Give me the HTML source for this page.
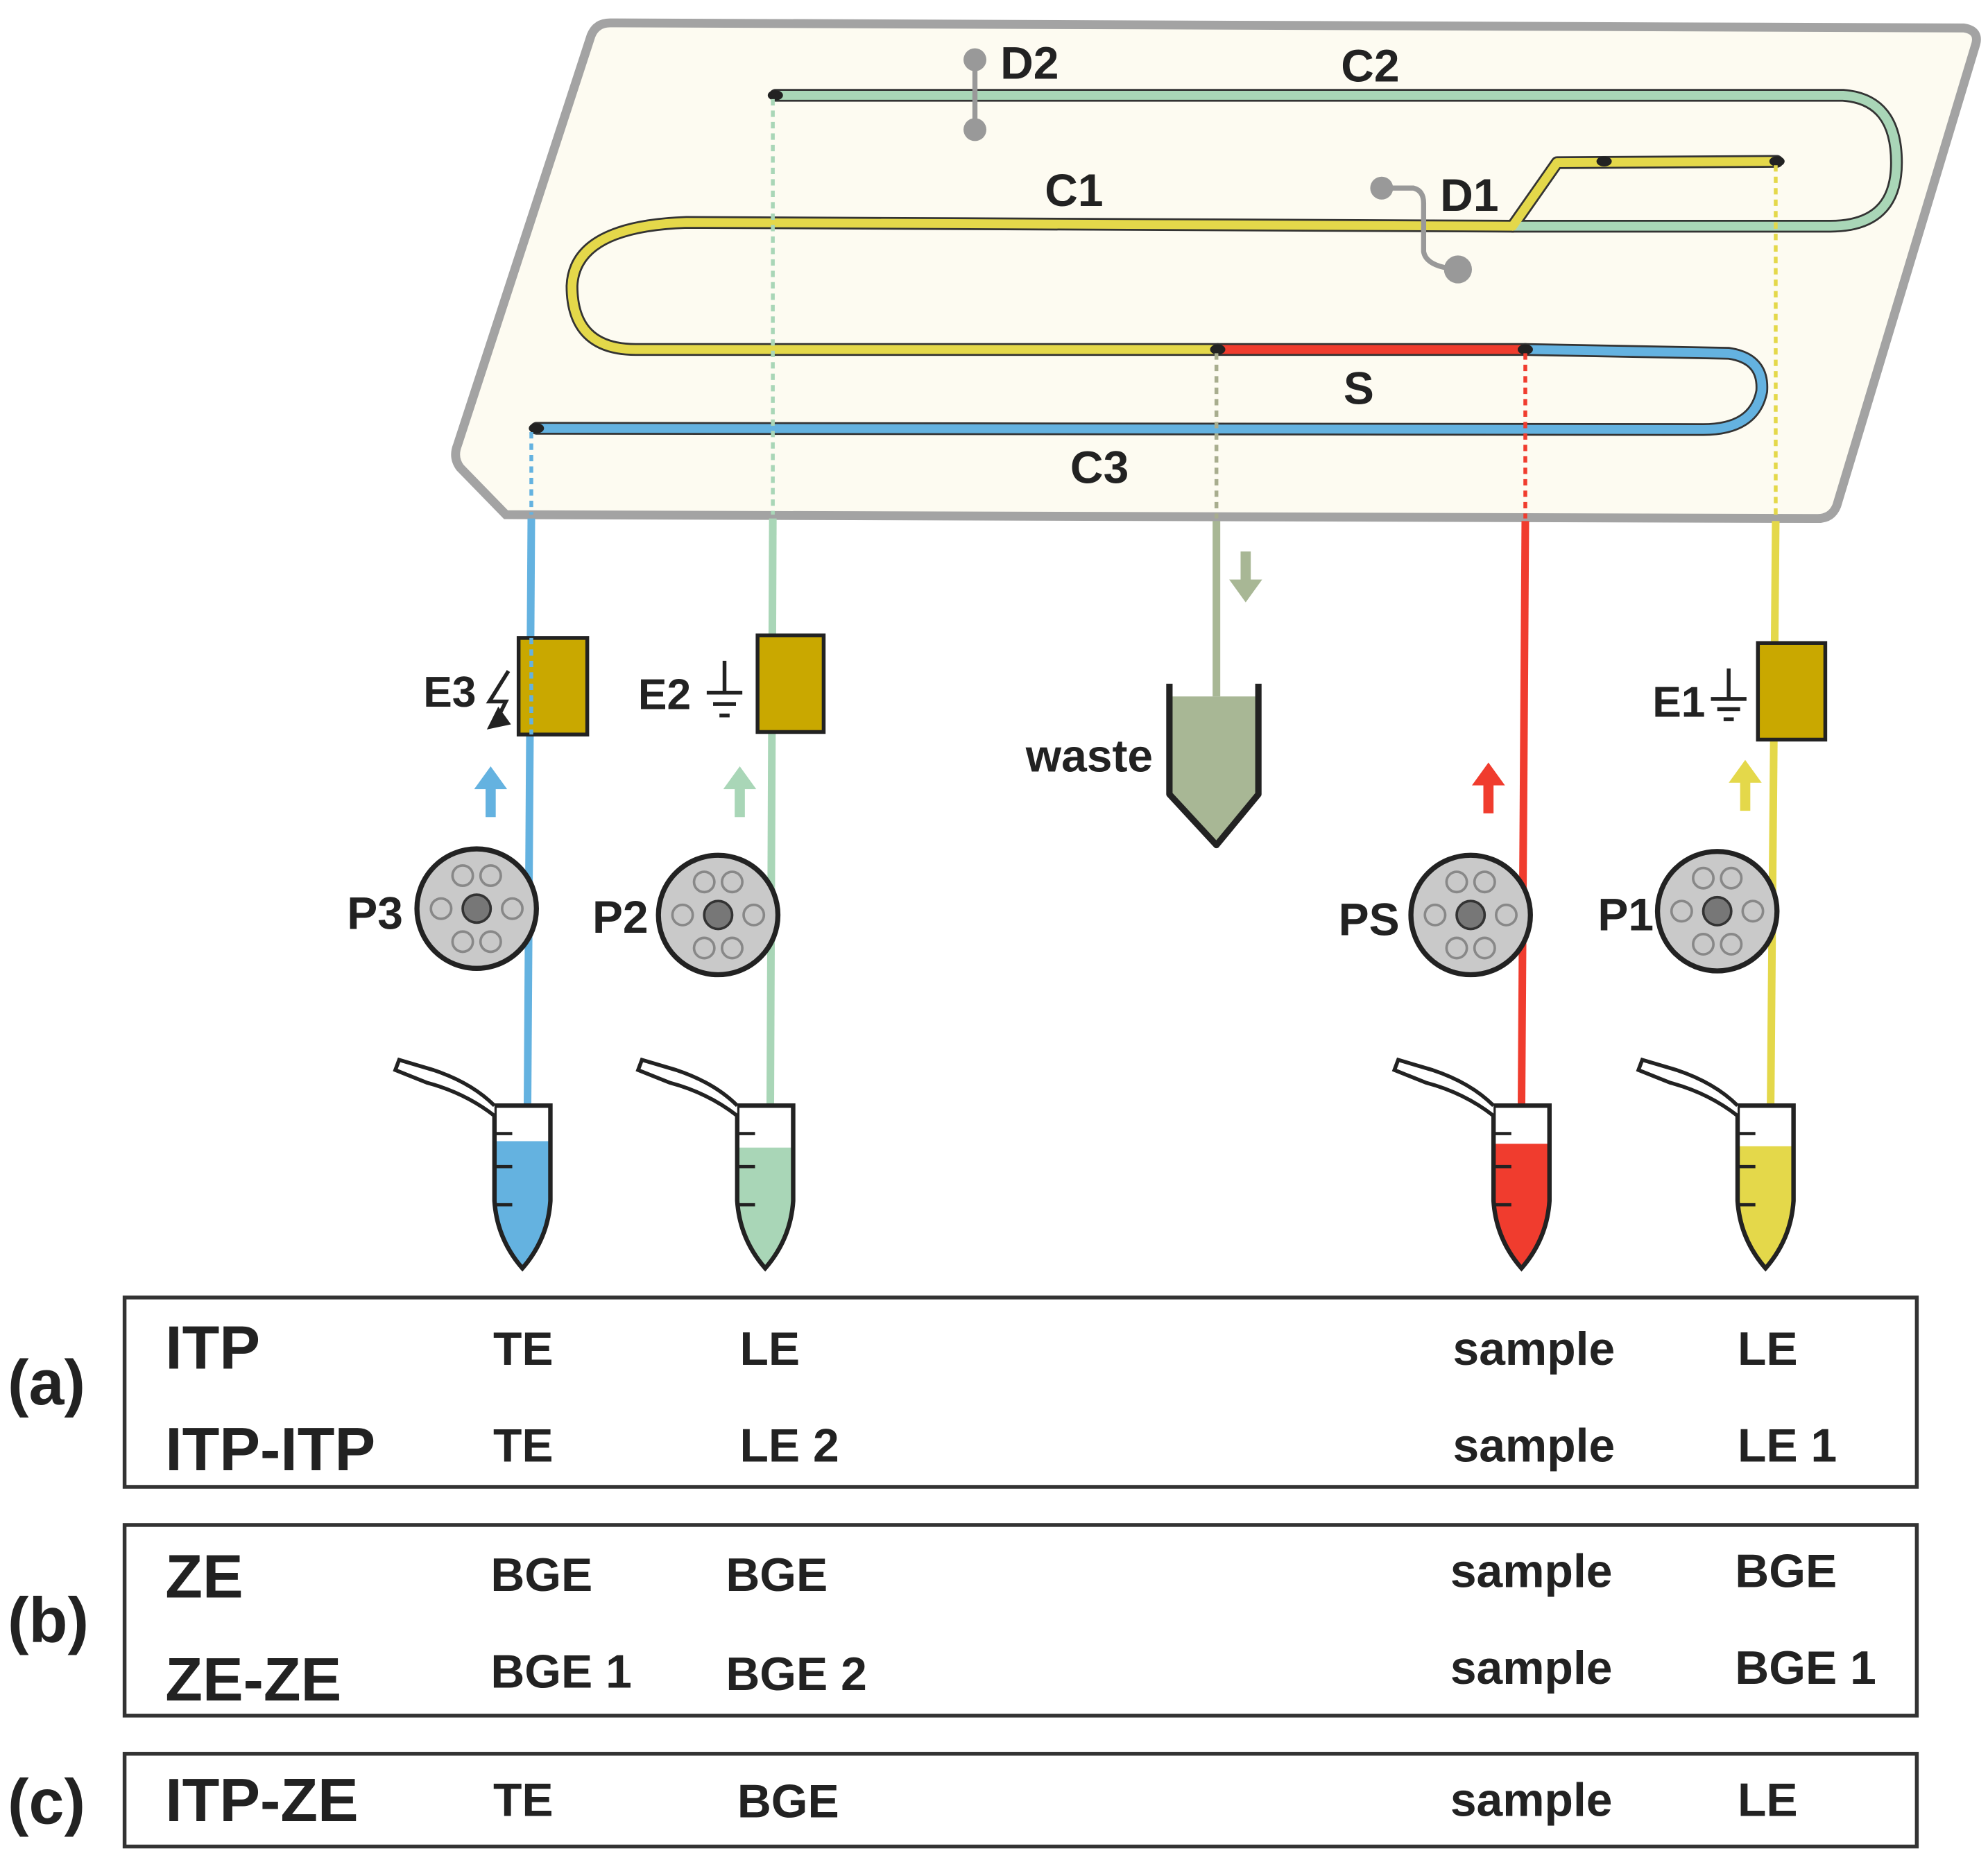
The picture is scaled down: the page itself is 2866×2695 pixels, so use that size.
<!DOCTYPE html>
<html><head><meta charset="utf-8"><style>
html,body{margin:0;padding:0;background:#fff}
svg{display:block}
text{font-family:"Liberation Sans",sans-serif;font-weight:bold;fill:#222}
</style></head><body>
<svg width="2866" height="2695" viewBox="0 0 1564 1470.7" xmlns="http://www.w3.org/2000/svg">
<defs>
<g id="pump">
<circle r="47" fill="#c9c9c9" stroke="#222" stroke-width="4"/>
<g fill="#c9c9c9" stroke="#888" stroke-width="2">
<circle cx="28" cy="0" r="8"/><circle cx="-28" cy="0" r="8"/>
<circle cx="11" cy="26" r="8"/><circle cx="-11" cy="26" r="8"/>
<circle cx="11" cy="-26" r="8"/><circle cx="-11" cy="-26" r="8"/>
</g>
<circle r="11" fill="#777" stroke="#333" stroke-width="2"/>
</g>
<g id="tubeShell">
<path d="M-22 870 L22 870 L22 945 Q20 975 0 998 Q-20 975 -22 945 Z" fill="none" stroke="#222" stroke-width="3.5"/>
<path d="M-22 878 Q-45 860 -75 852 L-100 842 L-97 834 L-70 842 Q-40 852 -22 870" fill="#fff" stroke="#222" stroke-width="3"/>
<g stroke="#222" stroke-width="2.5"><line x1="-22" y1="892" x2="-8" y2="892"/><line x1="-22" y1="918" x2="-8" y2="918"/><line x1="-22" y1="948" x2="-8" y2="948"/></g>
</g>
<g id="up"><path d="M0 -22 L-13 -4 L-4 -4 L-4 18 L4 18 L4 -4 L13 -4 Z"/></g>
</defs>

<path d="M480 18 L1545 22 Q1558 24 1554 36 L1445 398 Q1441 408 1430 408 L398 405 L362 368 Q356 360 360 350 L465 28 Q469 18 480 18 Z" fill="#fdfbf1" stroke="#a3a3a3" stroke-width="7"/>

<g fill="none" stroke-linecap="round" stroke-linejoin="round">
<g stroke="#333" stroke-width="10">
<path d="M610 75 L1450 75 Q1492 78 1492 128 Q1492 178 1440 178 L1190 178"/>
<path d="M1190 178 L540 175 Q452 178 450 225 Q450 275 500 275 L958 275"/>
<path d="M1190 178 L1225 128 L1398 127"/>
<path d="M958 275 L1200 275"/>
<path d="M1200 275 L1360 278 Q1388 282 1386 308 Q1380 338 1340 338 L422 337"/>
</g>
<g stroke-width="7">
<path stroke="#a9d6b7" d="M610 75 L1450 75 Q1492 78 1492 128 Q1492 178 1440 178 L1190 178"/>
<path stroke="#e4d84a" d="M1190 178 L540 175 Q452 178 450 225 Q450 275 500 275 L958 275"/>
<path stroke="#e4d84a" d="M1190 178 L1225 128 L1398 127"/>
<path stroke="#f03c2e" d="M958 275 L1200 275"/>
<path stroke="#64b2e0" d="M1200 275 L1360 278 Q1388 282 1386 308 Q1380 338 1340 338 L422 337"/>
</g>
</g>
<g fill="#222"><ellipse cx="610" cy="75" rx="6" ry="4"/><ellipse cx="958" cy="275" rx="6" ry="4"/><ellipse cx="1200" cy="275" rx="6" ry="4"/><ellipse cx="422" cy="337" rx="6" ry="4"/><ellipse cx="1262" cy="127" rx="6" ry="4"/><ellipse cx="1398" cy="127" rx="6" ry="4"/></g>

<g stroke="#999" stroke-width="4" fill="#999">
<line x1="767" y1="47" x2="767" y2="102"/><circle cx="767" cy="47" r="9" stroke="none"/><circle cx="767" cy="102" r="9" stroke="none"/>
<path d="M1087 148 L1112 148 Q1120 150 1120 160 L1120 198 Q1122 210 1147 212" fill="none"/>
<circle cx="1087" cy="148" r="9" stroke="none"/><circle cx="1147" cy="212" r="11" stroke="none"/>
</g>

<g font-size="36">
<text x="787" y="62">D2</text><text x="1055" y="64">C2</text>
<text x="822" y="162">C1</text><text x="1133" y="166">D1</text>
<text x="1057" y="318">S</text><text x="842" y="380">C3</text>
</g>

<g stroke-width="3" stroke-dasharray="5 4" fill="none">
<line x1="418" y1="340" x2="418" y2="405" stroke="#64b2e0"/>
<line x1="608" y1="78" x2="608" y2="405" stroke="#a9d6b7"/>
<line x1="957" y1="278" x2="957" y2="408" stroke="#a8ad8e"/>
<line x1="1200" y1="278" x2="1200" y2="408" stroke="#f03c2e"/>
<line x1="1397" y1="130" x2="1397" y2="408" stroke="#e4d84a"/>
</g>
<g stroke-width="6" fill="none">
<line x1="418" y1="408" x2="415" y2="870" stroke="#64b2e0"/>
<line x1="608" y1="408" x2="606" y2="870" stroke="#a9d6b7"/>
<line x1="957" y1="410" x2="957" y2="548" stroke="#a8b795"/>
<line x1="1200" y1="410" x2="1197" y2="870" stroke="#f03c2e"/>
<line x1="1397" y1="410" x2="1393" y2="870" stroke="#e4d84a"/>
</g>

<g fill="#c9a800" stroke="#222" stroke-width="3">
<rect x="408" y="502" width="54" height="76"/>
<rect x="596" y="500" width="52" height="76"/>
<rect x="1383" y="506" width="53" height="76"/>
</g>
<line x1="418" y1="502" x2="418" y2="578" stroke="#64b2e0" stroke-width="3" stroke-dasharray="5 4"/>
<g stroke="#222" stroke-width="3" fill="none">
<line x1="570" y1="520" x2="570" y2="545"/><line x1="556" y1="545" x2="584" y2="545"/><line x1="561" y1="554" x2="579" y2="554"/><line x1="566" y1="563" x2="574" y2="563"/>
<line x1="1360" y1="526" x2="1360" y2="550"/><line x1="1346" y1="550" x2="1374" y2="550"/><line x1="1351" y1="558" x2="1369" y2="558"/><line x1="1356" y1="566" x2="1364" y2="566"/>
<path d="M400 528 L385 552 L398 552 L390 568"/>
</g>
<path d="M383 574 L402 570 L392 556 Z" fill="#222"/>
<g font-size="34">
<text x="333" y="556">E3</text><text x="502" y="558">E2</text><text x="1300" y="564">E1</text>
</g>

<use href="#up" x="386" y="625" fill="#64b2e0"/>
<use href="#up" x="582" y="625" fill="#a9d6b7"/>
<use href="#up" x="1171" y="622" fill="#f03c2e"/>
<use href="#up" x="1373" y="620" fill="#e4d84a"/>
<use href="#up" x="980" y="452" fill="#a8b795" transform="rotate(180 980 452)"/>

<path d="M920 548 L990 548 L990 622 L957 662 L920 622 Z" fill="#a8b795"/>
<path d="M920 538 L920 625 L957 665 L990 625 L990 538" fill="none" stroke="#222" stroke-width="5" stroke-linejoin="round"/>
<text x="807" y="607" font-size="36">waste</text>

<use href="#pump" x="375" y="715"/><use href="#pump" x="565" y="720"/>
<use href="#pump" x="1157" y="720"/><use href="#pump" x="1351" y="717"/>
<g font-size="36"><text x="273" y="731">P3</text><text x="466" y="734">P2</text><text x="1053" y="736">PS</text><text x="1257" y="732">P1</text></g>

<path transform="translate(411 0)" d="M-22 898 L22 898 L22 945 Q20 975 0 998 Q-20 975 -22 945 Z" fill="#64b2e0"/>
<use href="#tubeShell" x="411"/>
<path transform="translate(602 0)" d="M-22 903 L22 903 L22 945 Q20 975 0 998 Q-20 975 -22 945 Z" fill="#a9d6b7"/>
<use href="#tubeShell" x="602"/>
<path transform="translate(1197 0)" d="M-22 900 L22 900 L22 945 Q20 975 0 998 Q-20 975 -22 945 Z" fill="#f03c2e"/>
<use href="#tubeShell" x="1197"/>
<path transform="translate(1389 0)" d="M-22 902 L22 902 L22 945 Q20 975 0 998 Q-20 975 -22 945 Z" fill="#e4d84a"/>
<use href="#tubeShell" x="1389"/>

<g fill="#fff" stroke="#333" stroke-width="3">
<rect x="98" y="1021" width="1410" height="149"/>
<rect x="98" y="1200" width="1410" height="150"/>
<rect x="98" y="1380" width="1410" height="73"/>
</g>
<g font-size="50"><text x="6" y="1105">(a)</text><text x="6" y="1292">(b)</text><text x="6" y="1435">(c)</text></g>
<g font-size="48">
<text x="130" y="1077">ITP</text><text x="130" y="1157">ITP-ITP</text>
<text x="130" y="1257">ZE</text><text x="130" y="1338">ZE-ZE</text>
<text x="130" y="1433">ITP-ZE</text>
</g>
<g font-size="37">
<text x="388" y="1074">TE</text><text x="582" y="1074">LE</text><text x="1143" y="1074">sample</text><text x="1367" y="1074">LE</text>
<text x="388" y="1150">TE</text><text x="582" y="1150">LE 2</text><text x="1143" y="1150">sample</text><text x="1367" y="1150">LE 1</text>
<text x="386" y="1252">BGE</text><text x="571" y="1252">BGE</text><text x="1141" y="1249">sample</text><text x="1365" y="1249">BGE</text>
<text x="386" y="1328">BGE 1</text><text x="571" y="1330">BGE 2</text><text x="1141" y="1325">sample</text><text x="1365" y="1325">BGE 1</text>
<text x="388" y="1429">TE</text><text x="580" y="1430">BGE</text><text x="1141" y="1429">sample</text><text x="1367" y="1429">LE</text>
</g>
</svg>
</body></html>
